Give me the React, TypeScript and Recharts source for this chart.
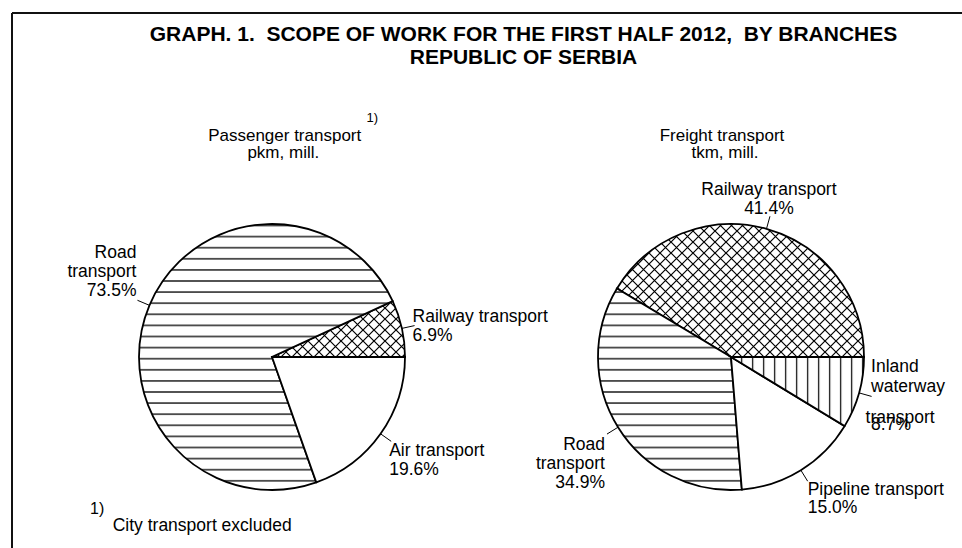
import React from 'react';
import { PieChart, Pie, Cell } from 'recharts';

// Passenger transport, pkm (shares, %)
const passengerBranches = ['Railway transport', 'Road transport', 'Air transport'];
const passengerShares = [6.9, 73.5, 19.6];
const passengerLabelLines = [['Railway transport'], ['Road', 'transport'], ['Air transport']];

// Freight transport, tkm (shares, %)
const freightBranches = ['Railway transport', 'Road transport', 'Pipeline transport', 'Inland waterway transport'];
const freightShares = [41.4, 34.9, 15.0, 8.7];
const freightLabelLines = [['Railway transport'], ['Road', 'transport'], ['Pipeline transport'], ['Inland', 'waterway', 'transport']];

const titleLines = ['GRAPH. 1.  SCOPE OF WORK FOR THE FIRST HALF 2012,  BY BRANCHES', 'REPUBLIC OF SERBIA'];
const footnote = 'City transport excluded';

const FONT = '"Liberation Sans", Arial, sans-serif';
const RADIAN = Math.PI / 180;

// hatch pattern for each branch
const branchFill: Record<string, string> = {
  'Railway transport': 'url(#crossHatch)',
  'Road transport': 'url(#hLines)',
  'Air transport': '#ffffff',
  'Pipeline transport': '#ffffff',
  'Inland waterway transport': 'url(#vLines)',
};

type LabelLayout = { anchor: 'start' | 'middle' | 'end'; rows: number[][] };

// text offsets from the end of the leader line
const passengerLayout: LabelLayout[] = [
  { anchor: 'start', rows: [[-2, -4], [-2, 15.5]] },
  { anchor: 'end', rows: [[-1, -42.5], [-1, -23], [-1, -3.8]] },
  { anchor: 'start', rows: [[-2, 14.5], [-2, 33.5]] },
];
const freightLayout: LabelLayout[] = [
  { anchor: 'middle', rows: [[-1, -21], [-1, -2.5]] },
  { anchor: 'end', rows: [[-2, 16], [-2, 35.3], [-2, 53.7]] },
  { anchor: 'start', rows: [[0, 13.5], [0, 32]] },
  { anchor: 'start', rows: [[-0.5, -24], [-0.5, -4.4], [-6, 26.3], [-0.5, 33.3]] },
];

const makeLabel = (lines: string[][], values: number[], layout: LabelLayout[]) => (props: any) => {
  const { cx, cy, midAngle, outerRadius, index } = props;
  const ex = cx + (outerRadius + 13) * Math.cos(-midAngle * RADIAN);
  const ey = cy + (outerRadius + 13) * Math.sin(-midAngle * RADIAN);
  const l = layout[index];
  const texts = [...lines[index], `${values[index].toFixed(1)}%`];
  return (
    <g key={`lbl-${index}`}>
      {texts.map((t, i) => (
        <text
          key={i}
          x={ex + l.rows[i][0]}
          y={ey + l.rows[i][1]}
          textAnchor={l.anchor}
          fill="#000"
          stroke="none"
          fontSize={17.5}
          fontFamily={FONT}
        >
          {t}
        </text>
      ))}
    </g>
  );
};

const leaderLine = (props: any) => {
  const { cx, cy, midAngle, outerRadius, index } = props;
  const c = Math.cos(-midAngle * RADIAN);
  const s = Math.sin(-midAngle * RADIAN);
  return (
    <line
      key={`ll-${index}`}
      x1={cx + outerRadius * c}
      y1={cy + outerRadius * s}
      x2={cx + (outerRadius + 13) * c}
      y2={cy + (outerRadius + 13) * s}
      stroke="#000"
      strokeWidth={1}
    />
  );
};

const passengerData = passengerBranches.map((name, i) => ({ name, value: passengerShares[i] }));
const freightData = freightBranches.map((name, i) => ({ name, value: freightShares[i] }));

const txt = { fontFamily: FONT, fill: '#000' };

export default function App() {
  return (
    <div style={{ position: 'absolute', left: 0, top: 0, width: 962, height: 548, background: '#fff' }}>
      <PieChart width={962} height={548} margin={{ top: 0, right: 0, bottom: 0, left: 0 }}>
        <defs>
          <pattern id="hLines" patternUnits="userSpaceOnUse" x={0} y={281 - 5.55} width={11.1} height={11.1}>
            <rect width={11.1} height={11.1} fill="#fff" />
            <line x1={0} y1={5.55} x2={11.1} y2={5.55} stroke="#000" strokeWidth={1.3} />
          </pattern>
          <pattern id="vLines" patternUnits="userSpaceOnUse" x={741.7 - 5.5} y={0} width={11} height={11}>
            <rect width={11} height={11} fill="#fff" />
            <line x1={5.5} y1={0} x2={5.5} y2={11} stroke="#000" strokeWidth={1.2} />
          </pattern>
          <pattern id="crossHatch" patternUnits="userSpaceOnUse" x={0} y={0} width={11} height={11}>
            <rect width={11} height={11} fill="#fff" />
            <path d="M-1,-1 L12,12 M12,-1 L-1,12" stroke="#000" strokeWidth={1.2} />
          </pattern>
        </defs>

        {/* frame */}
        <line x1={12} y1={13} x2={962} y2={13} stroke="#111" strokeWidth={2} />
        <line x1={12} y1={13} x2={12} y2={548} stroke="#111" strokeWidth={2} />

        {/* title */}
        <text x={523.5} y={41} textAnchor="middle" fontSize={21} fontWeight="bold" style={{ whiteSpace: 'pre' }} {...txt}>
          {titleLines[0]}
        </text>
        <text x={523.5} y={64} textAnchor="middle" fontSize={21} fontWeight="bold" {...txt}>
          {titleLines[1]}
        </text>

        {/* pie headers */}
        <text x={284.7} y={140.5} textAnchor="middle" fontSize={17} {...txt}>Passenger transport</text>
        <text x={366.5} y={122} fontSize={13} {...txt}>1)</text>
        <text x={283.3} y={158} textAnchor="middle" fontSize={17} {...txt}>pkm, mill.</text>
        <text x={722} y={140.5} textAnchor="middle" fontSize={17} {...txt}>Freight transport</text>
        <text x={725} y={158} textAnchor="middle" fontSize={17} {...txt}>tkm, mill.</text>

        {/* footnote */}
        <text x={90} y={514} fontSize={16} {...txt}>1)</text>
        <text x={112.7} y={530.7} fontSize={17.5} {...txt}>{footnote}</text>

        <Pie
          data={passengerData}
          dataKey="value"
          nameKey="name"
          cx={272}
          cy={357}
          outerRadius={133}
          startAngle={0}
          endAngle={360}
          stroke="#000"
          strokeWidth={1.8}
          label={makeLabel(passengerLabelLines, passengerShares, passengerLayout)}
          labelLine={leaderLine}
          isAnimationActive={false}
        >
          {passengerData.map((d) => (
            <Cell key={d.name} fill={branchFill[d.name]} />
          ))}
        </Pie>
        <Pie
          data={freightData}
          dataKey="value"
          nameKey="name"
          cx={731}
          cy={357}
          outerRadius={133}
          startAngle={0}
          endAngle={360}
          stroke="#000"
          strokeWidth={1.8}
          label={makeLabel(freightLabelLines, freightShares, freightLayout)}
          labelLine={leaderLine}
          isAnimationActive={false}
        >
          {freightData.map((d) => (
            <Cell key={d.name} fill={branchFill[d.name]} />
          ))}
        </Pie>
      </PieChart>
    </div>
  );
}
